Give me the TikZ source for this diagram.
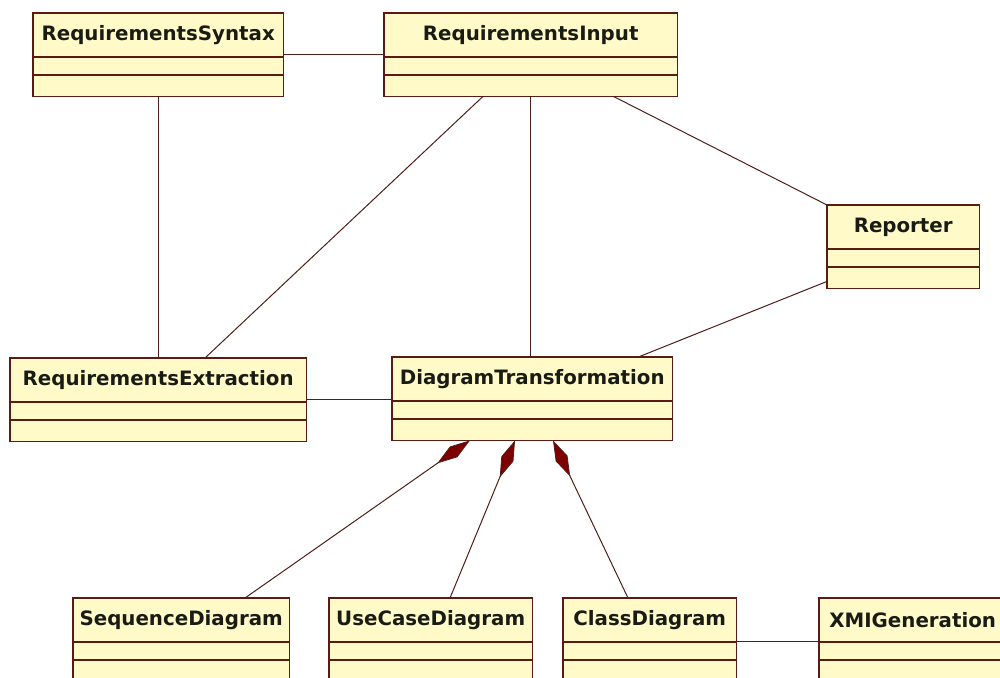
\documentclass[tikz,border=0pt]{standalone}
\usepackage{fontspec}
\setmainfont{DejaVu Sans}
\usetikzlibrary{calc,arrows.meta}

\definecolor{classfill}{RGB}{255,250,200}
\definecolor{classedge}{RGB}{88,28,20}
\definecolor{linkcol}{RGB}{80,30,25}
\definecolor{diamondfill}{RGB}{125,0,0}
\definecolor{titlecol}{RGB}{25,28,20}

\tikzset{
  classbox/.style={rectangle, fill=classfill, inner sep=0pt, minimum height=83pt},
  classtitle/.style={inner sep=0pt, text=titlecol,
    font=\fontsize{19.8}{23}\selectfont\bfseries},
  classline/.style={draw=classedge, line width=1.4pt},
  assoc/.style={draw=linkcol, line width=1pt},
  comp/.style={draw=linkcol, line width=1pt,
    -{Diamond[length=40pt,width=13pt,fill=diamondfill,line width=0.8pt]}},
}

% UML class: name, left, top, width, title
\newcommand\umlclass[5]{%
  \node[classbox, minimum width=#4pt, anchor=north west] (#1) at (#2,#3) {};
  \node[classtitle] (#1-title) at ($(#1.north)+(0,22)$) {#5};
  \draw[classline] ($(#1.north west)+(0,44)$) -- ($(#1.north east)+(0,44)$);
  \draw[classline] ($(#1.north west)+(0,62)$) -- ($(#1.north east)+(0,62)$);
  \draw[classline] (#1.north west) rectangle (#1.south east);
}

\begin{document}
\begin{tikzpicture}[x=1pt,y=-1pt]
  \clip (0,0) rectangle (1000,677);
  \fill[white] (0,0) rectangle (1000,677);

  \umlclass{syn}{33}{13}{250}{RequirementsSyntax}
  \umlclass{inp}{384}{13}{293}{RequirementsInput}
  \umlclass{rep}{827}{205}{152}{Reporter}
  \umlclass{ext}{10}{358}{296}{RequirementsExtraction}
  \umlclass{dt}{392}{357}{280}{DiagramTransformation}
  \umlclass{seq}{73}{598}{216}{SequenceDiagram}
  \umlclass{uc}{329}{598}{203}{UseCaseDiagram}
  \umlclass{cls}{563}{598}{173}{ClassDiagram}
  \umlclass{xmi}{819}{598}{187}{XMIGeneration}

  % associations
  \draw[assoc] (syn.east) -- (inp.west);
  \draw[assoc] (syn.south) -- (ext.north);
  \draw[assoc] ($(inp.south west)+(99,0)$) -- ($(ext.north west)+(195,0)$);
  \draw[assoc] (inp.south) -- (inp.south |- dt.north);
  \draw[assoc] ($(inp.south east)+(-64,0)$) -- (rep.north west);
  \draw[assoc] ($(rep.south west)+(0,-7)$) -- ($(dt.north east)+(-34,0)$);
  \draw[assoc] (ext.east) -- (ext.east -| dt.west);
  \draw[assoc] ($(cls.north east)+(0,43)$) -- ($(xmi.north west)+(0,43)$);

  % compositions into DiagramTransformation
  \draw[comp] ($(seq.north west)+(172,0)$) -- ($(dt.south west)+(78,0)$);
  \draw[comp] ($(uc.north west)+(121,0)$) -- ($(dt.south west)+(123,0)$);
  \draw[comp] ($(cls.north west)+(65,0)$) -- ($(dt.south west)+(161,0)$);
\end{tikzpicture}
\end{document}
